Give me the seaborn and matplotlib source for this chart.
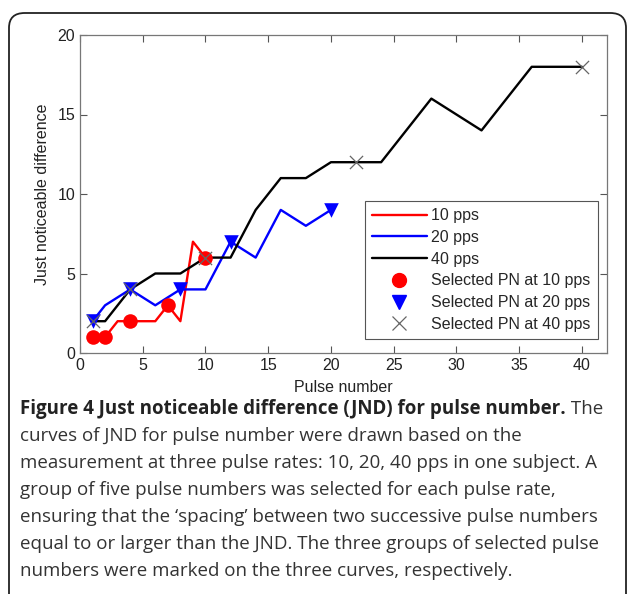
import matplotlib
matplotlib.use("Agg")
import matplotlib.pyplot as plt
from matplotlib.patches import FancyBboxPatch
from matplotlib.lines import Line2D
import seaborn as sns
import pandas as pd

## data
x_10 = [1, 2, 3, 4, 5, 6, 7, 8, 9, 10]
jnd_10 = [1, 1, 2, 2, 2, 2, 3, 2, 7, 6]
sel_10 = [1, 2, 4, 7, 10]

x_20 = [1, 2, 4, 6, 8, 10, 12, 14, 16, 18, 20]
jnd_20 = [2, 3, 4, 3, 4, 4, 7, 6, 9, 8, 9]
sel_20 = [1, 4, 8, 12, 20]

x_40 = [1, 2, 4, 6, 8, 10, 12, 14, 16, 18, 20, 22, 24, 28, 32, 36, 40]
jnd_40 = [2, 2, 4, 5, 5, 6, 6, 9, 11, 11, 12, 12, 12, 16, 14, 18, 18]
sel_40 = [1, 4, 10, 22, 40]

caption_bold = "Figure 4 Just noticeable difference (JND) for pulse number."
caption_lines = [
    "curves of JND for pulse number were drawn based on the",
    "measurement at three pulse rates: 10, 20, 40 pps in one subject. A",
    "group of five pulse numbers was selected for each pulse rate,",
    "ensuring that the \u2018spacing\u2019 between two successive pulse numbers",
    "equal to or larger than the JND. The three groups of selected pulse",
    "numbers were marked on the three curves, respectively.",
]

sns.set_style("ticks")
plt.rcParams['font.family'] = ['Liberation Sans', 'DejaVu Sans']

fig = plt.figure(figsize=(6.29, 5.94), dpi=100)
W, H = 629, 594
ax = fig.add_axes([80 / W, 1 - 353 / H, (607 - 80) / W, (353 - 35) / H])

def sel_df(xs, ys, sel):
    d = dict(zip(xs, ys))
    return pd.DataFrame({"x": sel, "y": [d[s] for s in sel]})

sns.lineplot(x=x_10, y=jnd_10, color="red", lw=1.7, ax=ax)
sns.lineplot(x=x_20, y=jnd_20, color="blue", lw=1.7, ax=ax)
sns.lineplot(x=x_40, y=jnd_40, color="black", lw=1.7, ax=ax)

d10 = sel_df(x_10, jnd_10, sel_10)
d20 = sel_df(x_20, jnd_20, sel_20)
d40 = sel_df(x_40, jnd_40, sel_40)
sns.scatterplot(data=d10, x="x", y="y", marker="o", s=110, color="red",
                edgecolor="red", linewidth=0, ax=ax, zorder=3)
sns.scatterplot(data=d20, x="x", y="y", marker="v", s=110, color="blue",
                edgecolor="blue", linewidth=0, ax=ax, zorder=3)
sns.scatterplot(data=d40, x="x", y="y", marker="x", s=90, color="#666666",
                linewidth=0.9, ax=ax, zorder=3)

ax.set_xlim(0, 42)
ax.set_ylim(0, 20)
ax.set_xticks(range(0, 41, 5))
ax.set_yticks(range(0, 21, 5))
ax.tick_params(direction="in", top=True, right=True, labelsize=11.5,
               length=5, width=0.8, colors="#555555", labelcolor="#222222")
for s in ax.spines.values():
    s.set_color("#777777")
    s.set_linewidth(0.9)
ax.set_xlabel("Pulse number", fontsize=11.5, labelpad=5, color="#222222")
ax.set_ylabel("Just noticeable difference", fontsize=11.5, labelpad=5,
              color="#222222")

handles = [
    Line2D([], [], color="red", lw=1.7),
    Line2D([], [], color="blue", lw=1.7),
    Line2D([], [], color="black", lw=1.7),
    Line2D([], [], color="red", marker="o", ls="none", markersize=10),
    Line2D([], [], color="blue", marker="v", ls="none", markersize=10),
    Line2D([], [], color="#666666", marker="x", ls="none", markersize=10,
           mew=0.9),
]
labels = ["10 pps", "20 pps", "40 pps", "Selected PN at 10 pps",
          "Selected PN at 20 pps", "Selected PN at 40 pps"]
leg = ax.legend(handles, labels, loc="lower right",
                bbox_to_anchor=(598 / W, 1 - 339 / H),
                bbox_transform=fig.transFigure, fontsize=11.5,
                fancybox=False, framealpha=1, edgecolor="#555555",
                handlelength=3.4, handletextpad=0.3, labelspacing=0.42,
                borderpad=0.45, borderaxespad=0)
leg.get_frame().set_linewidth(0.8)

## frame around the figure panel
frame = FancyBboxPatch((9 / W, -0.2), (626 - 9) / W, 0.2 + 1 - 13 / H,
                       boxstyle="round,pad=0,rounding_size=0.025",
                       transform=fig.transFigure, fill=False,
                       edgecolor="#222222", lw=1.3, clip_on=False)
fig.patches.append(frame)

## caption
cap_font = ['Open Sans', 'DejaVu Sans']
fs = 13.5
y0 = 1 - 409 / H
t = fig.text(20 / W, y0, caption_bold, fontsize=fs, fontweight="bold",
             family=cap_font, va="center", color="#222222")
fig.canvas.draw()
bb = t.get_window_extent()
fig.text(bb.x1 / W, y0, " The", fontsize=fs, family=cap_font,
         va="center", color="#333333")
for i, line in enumerate(caption_lines):
    fig.text(20 / W, 1 - (436 + 27 * i) / H, line, fontsize=fs,
             family=cap_font, va="center", color="#333333")

fig.savefig("out.png", dpi=100)
